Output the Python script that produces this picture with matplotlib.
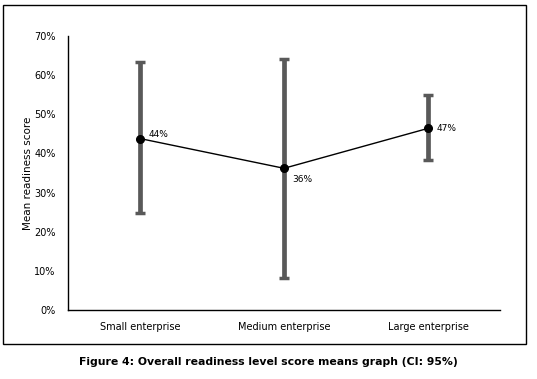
import matplotlib.pyplot as plt
from matplotlib.patches import Rectangle
from matplotlib.ticker import PercentFormatter

# data
categories = ["Small enterprise", "Medium enterprise", "Large enterprise"]
means = [43.8, 36.2, 46.4]
ci_low = [24.7, 8.3, 38.3]
ci_high = [63.3, 64.1, 54.9]
point_labels = ["44%", "36%", "47%"]

fig = plt.figure(figsize=(5.37, 3.79), dpi=100)
ax = fig.add_axes([68/537, 1 - 310/379, 432/537, 274/379])

x = range(len(categories))
yerr = [[m - lo for m, lo in zip(means, ci_low)],
        [hi - m for m, hi in zip(means, ci_high)]]

ax.errorbar(x, means, yerr=yerr, fmt="none", ecolor="#595959",
            elinewidth=3.4, capsize=3.5, capthick=2.5, zorder=2)
ax.plot(x, means, color="black", linewidth=1, marker="o", markersize=5.5, zorder=3)

offsets = [(6, 3), (6, -8), (6, 0)]
for xi, m, lab, off in zip(x, means, point_labels, offsets):
    ax.annotate(lab, (xi, m), xytext=off, textcoords="offset points",
                fontsize=6.5, va="center", ha="left")

ax.set_xlim(-0.5, 2.5)
ax.set_ylim(0, 70)
ax.set_yticks(range(0, 71, 10))
ax.yaxis.set_major_formatter(PercentFormatter(decimals=0))
ax.set_xticks(list(x))
ax.set_xticklabels(categories)
ax.tick_params(axis="both", length=0, labelsize=7)
ax.tick_params(axis="y", pad=9)
ax.tick_params(axis="x", pad=9)
ax.spines["top"].set_visible(False)
ax.spines["right"].set_visible(False)
ax.spines["left"].set_linewidth(1)
ax.spines["bottom"].set_linewidth(1)
ax.set_ylabel("Mean readiness score", fontsize=7.5, labelpad=1)

# outer frame round the chart
fig.patches.append(Rectangle((3/537, 1 - 344/379), 523/537, 339/379,
                             transform=fig.transFigure, fill=False,
                             edgecolor="black", linewidth=1))

fig.text(0.5, 1 - 362/379, "Figure 4: Overall readiness level score means graph (CI: 95%)",
         ha="center", va="center", fontsize=7.8, fontweight="bold")

fig.savefig("out.png", dpi=100)
